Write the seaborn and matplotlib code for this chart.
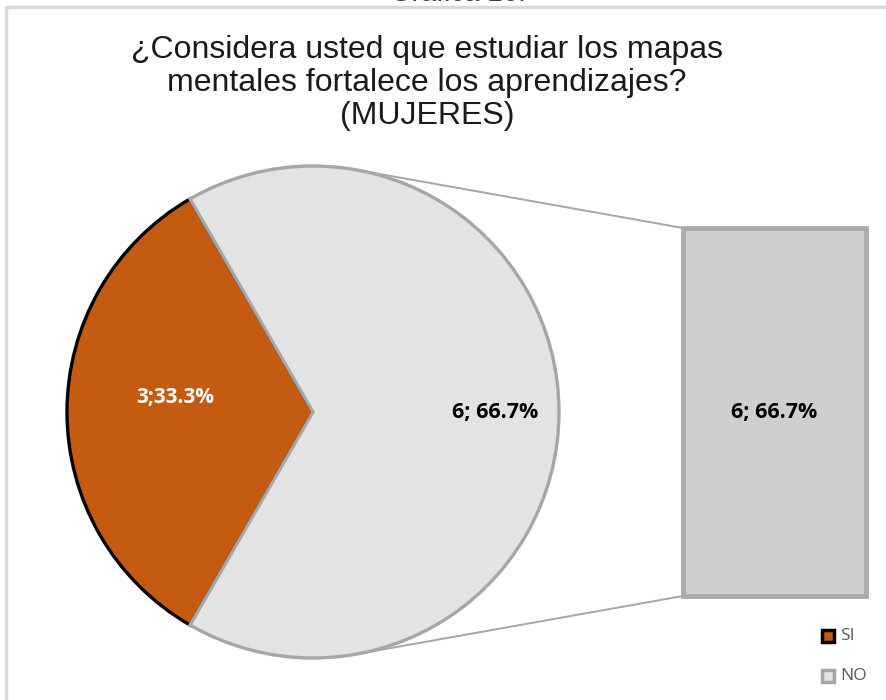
import numpy as np
import seaborn as sns
import matplotlib.pyplot as plt
from matplotlib.patches import Rectangle

# data
labels = ["SI", "NO"]
values = [3, 6]
pie_texts = ["3;33.3%", "6; 66.7%"]
bar_text = "6; 66.7%"
title = "¿Considera usted que estudiar los mapas\nmentales fortalece los aprendizajes?\n(MUJERES)"

sns.set_theme(style="white")
plt.rcParams['font.family'] = ['Liberation Sans', 'DejaVu Sans']

colors = ["#C55A11", "#E3E3E3"]
edges = ["#000000", "#A6A6A6"]

fig = plt.figure(figsize=(8.87, 7), dpi=100)
ax = fig.add_axes([0, 0, 1, 1])

# frame of the chart area (partly cut off)
ax.plot([6, 6], [0, 693], color="#D9D9D9", lw=2.5)
ax.plot([6, 887], [693, 693], color="#D9D9D9", lw=2.5)
ax.text(458, 699, "Gráfica 16:", ha='center', va='baseline', fontsize=20, color="#404040")

# pie
cx, cy, r = 313, 288, 246
wedges, _ = ax.pie(values, colors=colors, startangle=120, counterclock=True,
                   center=(cx, cy), radius=r, frame=True,
                   wedgeprops=dict(linewidth=2.4))
for w, ec in zip(wedges, edges):
    w.set_edgecolor(ec)
wedges[1].set_zorder(3)
ax.set_xlim(0, 887)
ax.set_ylim(0, 700)
ax.set_aspect('equal')
ax.axis('off')

lab_font = ['Open Sans', 'DejaVu Sans']
ax.text(175, 302, pie_texts[0], ha='center', va='center', fontsize=15,
        fontweight='bold', color='white', family=lab_font)
ax.text(495, 287, pie_texts[1], ha='center', va='center', fontsize=15.5,
        fontweight='bold', color='black', family=lab_font, zorder=5)

# bar of pie
bx0, bx1, by0, by1 = 683, 866, 104, 472
ax.add_patch(Rectangle((bx0, by0), bx1 - bx0, by1 - by0, facecolor="#D0CECE",
                       edgecolor="#AEAAAA", lw=3.5, zorder=2))
ax.text((bx0 + bx1) / 2, 287, bar_text, ha='center', va='center', fontsize=15.5,
        fontweight='bold', color='black', family=lab_font, zorder=5)

# connector lines
a1, a2 = np.deg2rad(79), np.deg2rad(-80)
ax.plot([cx + r * np.cos(a1), bx0], [cy + r * np.sin(a1), by1], color="#A6A6A6", lw=1.4, zorder=1)
ax.plot([cx + r * np.cos(a2), bx0], [cy + r * np.sin(a2), by0], color="#A6A6A6", lw=1.4, zorder=1)

ax.text(427, 617, title, ha='center', va='center', fontsize=23,
        color='#1a1a1a', linespacing=1.14)

# legend
leg_y = [64, 24]
for lab, c, ec, y in zip(labels, colors, edges, leg_y):
    ax.add_patch(Rectangle((822, y - 6), 12, 12, facecolor=c, edgecolor=ec, lw=2.5))
    ax.text(840, y, lab, ha='left', va='center', fontsize=12.5, color='#595959',
            family=lab_font)

fig.savefig("out.png", dpi=100)
